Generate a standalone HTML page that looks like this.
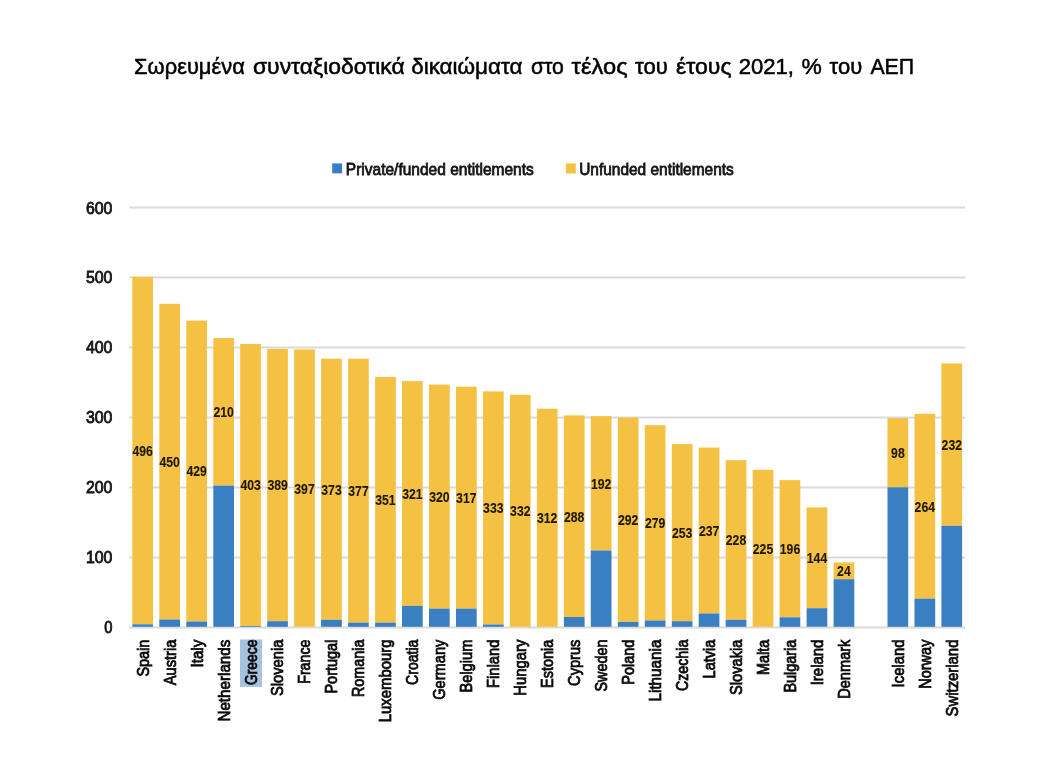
<!DOCTYPE html>
<html lang="el"><head><meta charset="utf-8"><title>Σωρευμένα συνταξιοδοτικά δικαιώματα</title>
<style>html,body{margin:0;padding:0;background:#fff}body{width:1060px;height:764px;overflow:hidden}svg{display:block;filter:blur(.45px)}text{font-family:"Liberation Sans", "DejaVu Sans", sans-serif;fill:#1a1a1a}.t{font-size:21.6px;fill:#000;stroke:#000;stroke-width:.5px}.lg{font-size:16.2px;fill:#151515;stroke:#151515;stroke-width:.8px}.ya{font-size:16.8px;text-anchor:end;fill:#151515;stroke:#151515;stroke-width:.85px}.xl{font-size:16.5px;text-anchor:end;fill:#0a0a0a;stroke:#0a0a0a;stroke-width:.8px}.dl{font-size:13.9px;font-weight:bold;text-anchor:middle;fill:#1d1805;stroke:#1d1805;stroke-width:.12px}</style></head><body>
<svg width="1060" height="764" viewBox="0 0 1060 764">
<rect width="1060" height="764" fill="#fff"/>
<text class="t" x="134.1" y="74.2" textLength="110.7" lengthAdjust="spacingAndGlyphs">Σωρευμένα</text>
<text class="t" x="253.0" y="74.2" textLength="151.7" lengthAdjust="spacingAndGlyphs">συνταξιοδοτικά</text>
<text class="t" x="411.2" y="74.2" textLength="111.4" lengthAdjust="spacingAndGlyphs">δικαιώματα</text>
<text class="t" x="530.9" y="74.2" textLength="33.0" lengthAdjust="spacingAndGlyphs">στο</text>
<text class="t" x="571.6" y="74.2" textLength="56.0" lengthAdjust="spacingAndGlyphs">τέλος</text>
<text class="t" x="635.0" y="74.2" textLength="32.8" lengthAdjust="spacingAndGlyphs">του</text>
<text class="t" x="676.0" y="74.2" textLength="55.5" lengthAdjust="spacingAndGlyphs">έτους</text>
<text class="t" x="738.7" y="74.2" textLength="55.2" lengthAdjust="spacingAndGlyphs">2021,</text>
<text class="t" x="801.6" y="74.2" textLength="20.3" lengthAdjust="spacingAndGlyphs">%</text>
<text class="t" x="829.6" y="74.2" textLength="32.6" lengthAdjust="spacingAndGlyphs">του</text>
<text class="t" x="870.4" y="74.2" textLength="43.8" lengthAdjust="spacingAndGlyphs">ΑΕΠ</text>
<rect x="332.2" y="163.4" width="9.9" height="10" fill="#3A7FC1"/>
<text class="lg" x="345.8" y="174.5" textLength="188.0" lengthAdjust="spacingAndGlyphs">Private/funded entitlements</text>
<rect x="565.9" y="163.4" width="9.9" height="10" fill="#F5C142"/>
<text class="lg" x="579.2" y="174.5" textLength="154.6" lengthAdjust="spacingAndGlyphs">Unfunded entitlements</text>
<line x1="129.2" x2="965.2" y1="207.4" y2="207.4" stroke="#dadada" stroke-width="2"/>
<text class="ya" x="112.4" y="213.5" textLength="26.5" lengthAdjust="spacingAndGlyphs">600</text>
<line x1="129.2" x2="965.2" y1="277.4" y2="277.4" stroke="#dadada" stroke-width="2"/>
<text class="ya" x="112.4" y="283.4" textLength="26.5" lengthAdjust="spacingAndGlyphs">500</text>
<line x1="129.2" x2="965.2" y1="347.4" y2="347.4" stroke="#dadada" stroke-width="2"/>
<text class="ya" x="112.4" y="353.4" textLength="26.5" lengthAdjust="spacingAndGlyphs">400</text>
<line x1="129.2" x2="965.2" y1="417.4" y2="417.4" stroke="#dadada" stroke-width="2"/>
<text class="ya" x="112.4" y="423.4" textLength="26.5" lengthAdjust="spacingAndGlyphs">300</text>
<line x1="129.2" x2="965.2" y1="487.4" y2="487.4" stroke="#dadada" stroke-width="2"/>
<text class="ya" x="112.4" y="493.4" textLength="26.5" lengthAdjust="spacingAndGlyphs">200</text>
<line x1="129.2" x2="965.2" y1="557.4" y2="557.4" stroke="#dadada" stroke-width="2"/>
<text class="ya" x="112.4" y="563.4" textLength="26.5" lengthAdjust="spacingAndGlyphs">100</text>
<line x1="129.2" x2="965.2" y1="627.4" y2="627.4" stroke="#dadada" stroke-width="2"/>
<text class="ya" x="112.4" y="633.4" textLength="8.2" lengthAdjust="spacingAndGlyphs">0</text>
<rect x="132.3" y="276.8" width="20.7" height="347.5" fill="#F5C142"/>
<rect x="132.3" y="624.3" width="20.7" height="2.5" fill="#3A7FC1"/>
<rect x="159.3" y="303.8" width="20.7" height="315.7" fill="#F5C142"/>
<rect x="159.3" y="619.5" width="20.7" height="7.3" fill="#3A7FC1"/>
<rect x="186.3" y="320.6" width="20.7" height="300.9" fill="#F5C142"/>
<rect x="186.3" y="621.5" width="20.7" height="5.3" fill="#3A7FC1"/>
<rect x="213.3" y="338.1" width="20.7" height="147.5" fill="#F5C142"/>
<rect x="213.3" y="485.6" width="20.7" height="141.2" fill="#3A7FC1"/>
<rect x="240.2" y="343.9" width="20.7" height="282.1" fill="#F5C142"/>
<rect x="240.2" y="626.0" width="20.7" height="0.8" fill="#3A7FC1"/>
<rect x="267.2" y="348.9" width="20.7" height="272.3" fill="#F5C142"/>
<rect x="267.2" y="621.2" width="20.7" height="5.6" fill="#3A7FC1"/>
<rect x="294.2" y="349.4" width="20.7" height="277.4" fill="#F5C142"/>
<rect x="321.1" y="358.7" width="20.7" height="261.1" fill="#F5C142"/>
<rect x="321.1" y="619.8" width="20.7" height="7.0" fill="#3A7FC1"/>
<rect x="348.1" y="358.7" width="20.7" height="263.9" fill="#F5C142"/>
<rect x="348.1" y="622.6" width="20.7" height="4.2" fill="#3A7FC1"/>
<rect x="375.1" y="376.9" width="20.7" height="245.7" fill="#F5C142"/>
<rect x="375.1" y="622.6" width="20.7" height="4.2" fill="#3A7FC1"/>
<rect x="402.0" y="381.1" width="20.7" height="224.7" fill="#F5C142"/>
<rect x="402.0" y="605.8" width="20.7" height="21.0" fill="#3A7FC1"/>
<rect x="429.0" y="384.6" width="20.7" height="224.0" fill="#F5C142"/>
<rect x="429.0" y="608.6" width="20.7" height="18.2" fill="#3A7FC1"/>
<rect x="456.0" y="386.7" width="20.7" height="221.9" fill="#F5C142"/>
<rect x="456.0" y="608.6" width="20.7" height="18.2" fill="#3A7FC1"/>
<rect x="483.0" y="391.4" width="20.7" height="233.1" fill="#F5C142"/>
<rect x="483.0" y="624.5" width="20.7" height="2.3" fill="#3A7FC1"/>
<rect x="509.9" y="394.8" width="20.7" height="232.0" fill="#F5C142"/>
<rect x="536.9" y="408.7" width="20.7" height="218.1" fill="#F5C142"/>
<rect x="563.9" y="415.4" width="20.7" height="201.6" fill="#F5C142"/>
<rect x="563.9" y="617.0" width="20.7" height="9.8" fill="#3A7FC1"/>
<rect x="590.8" y="416.1" width="20.7" height="134.4" fill="#F5C142"/>
<rect x="590.8" y="550.5" width="20.7" height="76.3" fill="#3A7FC1"/>
<rect x="617.8" y="417.5" width="20.7" height="204.4" fill="#F5C142"/>
<rect x="617.8" y="621.9" width="20.7" height="4.9" fill="#3A7FC1"/>
<rect x="644.8" y="425.2" width="20.7" height="195.3" fill="#F5C142"/>
<rect x="644.8" y="620.5" width="20.7" height="6.3" fill="#3A7FC1"/>
<rect x="671.8" y="444.1" width="20.7" height="177.1" fill="#F5C142"/>
<rect x="671.8" y="621.2" width="20.7" height="5.6" fill="#3A7FC1"/>
<rect x="698.7" y="447.6" width="20.7" height="165.9" fill="#F5C142"/>
<rect x="698.7" y="613.5" width="20.7" height="13.3" fill="#3A7FC1"/>
<rect x="725.7" y="460.2" width="20.7" height="159.6" fill="#F5C142"/>
<rect x="725.7" y="619.8" width="20.7" height="7.0" fill="#3A7FC1"/>
<rect x="752.7" y="469.8" width="20.7" height="157.0" fill="#F5C142"/>
<rect x="779.6" y="480.1" width="20.7" height="137.2" fill="#F5C142"/>
<rect x="779.6" y="617.3" width="20.7" height="9.5" fill="#3A7FC1"/>
<rect x="806.6" y="507.4" width="20.7" height="100.8" fill="#F5C142"/>
<rect x="806.6" y="608.2" width="20.7" height="18.5" fill="#3A7FC1"/>
<rect x="833.6" y="562.4" width="20.7" height="16.8" fill="#F5C142"/>
<rect x="833.6" y="579.2" width="20.7" height="47.6" fill="#3A7FC1"/>
<rect x="887.5" y="418.1" width="20.7" height="69.2" fill="#F5C142"/>
<rect x="887.5" y="487.3" width="20.7" height="139.5" fill="#3A7FC1"/>
<rect x="914.5" y="413.8" width="20.7" height="184.8" fill="#F5C142"/>
<rect x="914.5" y="598.6" width="20.7" height="28.2" fill="#3A7FC1"/>
<rect x="941.4" y="363.4" width="20.7" height="162.4" fill="#F5C142"/>
<rect x="941.4" y="525.8" width="20.7" height="101.0" fill="#3A7FC1"/>
<text class="dl" x="142.7" y="455.9" textLength="20.4" lengthAdjust="spacingAndGlyphs">496</text>
<text class="xl" transform="translate(148.6,639.6) rotate(-90)" textLength="37.0" lengthAdjust="spacingAndGlyphs">Spain</text>
<text class="dl" x="169.7" y="467.1" textLength="20.4" lengthAdjust="spacingAndGlyphs">450</text>
<text class="xl" transform="translate(175.6,639.6) rotate(-90)" textLength="45.7" lengthAdjust="spacingAndGlyphs">Austria</text>
<text class="dl" x="196.6" y="476.4" textLength="20.4" lengthAdjust="spacingAndGlyphs">429</text>
<text class="xl" transform="translate(202.5,639.6) rotate(-90)" textLength="28.0" lengthAdjust="spacingAndGlyphs">Italy</text>
<text class="dl" x="223.6" y="417.3" textLength="20.4" lengthAdjust="spacingAndGlyphs">210</text>
<text class="xl" transform="translate(229.5,639.6) rotate(-90)" textLength="82.0" lengthAdjust="spacingAndGlyphs">Netherlands</text>
<text class="dl" x="250.6" y="490.3" textLength="20.4" lengthAdjust="spacingAndGlyphs">403</text>
<rect x="240.0" y="639.5" width="22.0" height="47.4" fill="#A5C2DE"/>
<text class="xl" transform="translate(256.5,639.6) rotate(-90)" textLength="45.5" lengthAdjust="spacingAndGlyphs">Greece</text>
<text class="dl" x="277.6" y="490.4" textLength="20.4" lengthAdjust="spacingAndGlyphs">389</text>
<text class="xl" transform="translate(283.4,639.6) rotate(-90)" textLength="56.5" lengthAdjust="spacingAndGlyphs">Slovenia</text>
<text class="dl" x="304.5" y="493.5" textLength="20.4" lengthAdjust="spacingAndGlyphs">397</text>
<text class="xl" transform="translate(310.4,639.6) rotate(-90)" textLength="44.2" lengthAdjust="spacingAndGlyphs">France</text>
<text class="dl" x="331.5" y="494.6" textLength="20.4" lengthAdjust="spacingAndGlyphs">373</text>
<text class="xl" transform="translate(337.4,639.6) rotate(-90)" textLength="54.0" lengthAdjust="spacingAndGlyphs">Portugal</text>
<text class="dl" x="358.5" y="496.0" textLength="20.4" lengthAdjust="spacingAndGlyphs">377</text>
<text class="xl" transform="translate(364.4,639.6) rotate(-90)" textLength="57.5" lengthAdjust="spacingAndGlyphs">Romania</text>
<text class="dl" x="385.4" y="505.1" textLength="20.4" lengthAdjust="spacingAndGlyphs">351</text>
<text class="xl" transform="translate(391.3,639.6) rotate(-90)" textLength="82.6" lengthAdjust="spacingAndGlyphs">Luxembourg</text>
<text class="dl" x="412.4" y="498.8" textLength="20.4" lengthAdjust="spacingAndGlyphs">321</text>
<text class="xl" transform="translate(418.3,639.6) rotate(-90)" textLength="45.3" lengthAdjust="spacingAndGlyphs">Croatia</text>
<text class="dl" x="439.4" y="502.0" textLength="20.4" lengthAdjust="spacingAndGlyphs">320</text>
<text class="xl" transform="translate(445.3,639.6) rotate(-90)" textLength="60.2" lengthAdjust="spacingAndGlyphs">Germany</text>
<text class="dl" x="466.3" y="503.0" textLength="20.4" lengthAdjust="spacingAndGlyphs">317</text>
<text class="xl" transform="translate(472.2,639.6) rotate(-90)" textLength="53.0" lengthAdjust="spacingAndGlyphs">Belgium</text>
<text class="dl" x="493.3" y="513.3" textLength="20.4" lengthAdjust="spacingAndGlyphs">333</text>
<text class="xl" transform="translate(499.2,639.6) rotate(-90)" textLength="48.4" lengthAdjust="spacingAndGlyphs">Finland</text>
<text class="dl" x="520.3" y="516.2" textLength="20.4" lengthAdjust="spacingAndGlyphs">332</text>
<text class="xl" transform="translate(526.2,639.6) rotate(-90)" textLength="56.1" lengthAdjust="spacingAndGlyphs">Hungary</text>
<text class="dl" x="547.2" y="523.1" textLength="20.4" lengthAdjust="spacingAndGlyphs">312</text>
<text class="xl" transform="translate(553.1,639.6) rotate(-90)" textLength="48.4" lengthAdjust="spacingAndGlyphs">Estonia</text>
<text class="dl" x="574.2" y="521.6" textLength="20.4" lengthAdjust="spacingAndGlyphs">288</text>
<text class="xl" transform="translate(580.1,639.6) rotate(-90)" textLength="46.3" lengthAdjust="spacingAndGlyphs">Cyprus</text>
<text class="dl" x="601.2" y="488.7" textLength="20.4" lengthAdjust="spacingAndGlyphs">192</text>
<text class="xl" transform="translate(607.1,639.6) rotate(-90)" textLength="51.9" lengthAdjust="spacingAndGlyphs">Sweden</text>
<text class="dl" x="628.2" y="525.1" textLength="20.4" lengthAdjust="spacingAndGlyphs">292</text>
<text class="xl" transform="translate(634.1,639.6) rotate(-90)" textLength="45.1" lengthAdjust="spacingAndGlyphs">Poland</text>
<text class="dl" x="655.1" y="528.2" textLength="20.4" lengthAdjust="spacingAndGlyphs">279</text>
<text class="xl" transform="translate(661.0,639.6) rotate(-90)" textLength="61.9" lengthAdjust="spacingAndGlyphs">Lithuania</text>
<text class="dl" x="682.1" y="538.0" textLength="20.4" lengthAdjust="spacingAndGlyphs">253</text>
<text class="xl" transform="translate(688.0,639.6) rotate(-90)" textLength="51.5" lengthAdjust="spacingAndGlyphs">Czechia</text>
<text class="dl" x="709.1" y="535.9" textLength="20.4" lengthAdjust="spacingAndGlyphs">237</text>
<text class="xl" transform="translate(715.0,639.6) rotate(-90)" textLength="38.8" lengthAdjust="spacingAndGlyphs">Latvia</text>
<text class="dl" x="736.0" y="545.4" textLength="20.4" lengthAdjust="spacingAndGlyphs">228</text>
<text class="xl" transform="translate(741.9,639.6) rotate(-90)" textLength="55.4" lengthAdjust="spacingAndGlyphs">Slovakia</text>
<text class="dl" x="763.0" y="553.7" textLength="20.4" lengthAdjust="spacingAndGlyphs">225</text>
<text class="xl" transform="translate(768.9,639.6) rotate(-90)" textLength="35.3" lengthAdjust="spacingAndGlyphs">Malta</text>
<text class="dl" x="790.0" y="554.1" textLength="20.4" lengthAdjust="spacingAndGlyphs">196</text>
<text class="xl" transform="translate(795.9,639.6) rotate(-90)" textLength="53.0" lengthAdjust="spacingAndGlyphs">Bulgaria</text>
<text class="dl" x="817.0" y="563.2" textLength="20.4" lengthAdjust="spacingAndGlyphs">144</text>
<text class="xl" transform="translate(822.9,639.6) rotate(-90)" textLength="45.7" lengthAdjust="spacingAndGlyphs">Ireland</text>
<text class="dl" x="843.9" y="576.2" textLength="13.6" lengthAdjust="spacingAndGlyphs">24</text>
<text class="xl" transform="translate(849.8,639.6) rotate(-90)" textLength="59.2" lengthAdjust="spacingAndGlyphs">Denmark</text>
<text class="dl" x="897.9" y="458.1" textLength="13.6" lengthAdjust="spacingAndGlyphs">98</text>
<text class="xl" transform="translate(903.8,639.6) rotate(-90)" textLength="47.8" lengthAdjust="spacingAndGlyphs">Iceland</text>
<text class="dl" x="924.8" y="511.6" textLength="20.4" lengthAdjust="spacingAndGlyphs">264</text>
<text class="xl" transform="translate(930.7,639.6) rotate(-90)" textLength="49.2" lengthAdjust="spacingAndGlyphs">Norway</text>
<text class="dl" x="951.8" y="450.0" textLength="20.4" lengthAdjust="spacingAndGlyphs">232</text>
<text class="xl" transform="translate(957.7,639.6) rotate(-90)" textLength="76.8" lengthAdjust="spacingAndGlyphs">Switzerland</text>
</svg></body></html>
